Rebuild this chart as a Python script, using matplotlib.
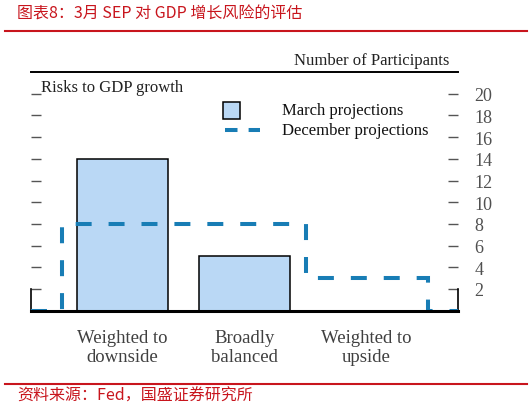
import matplotlib
matplotlib.use("Agg")
import matplotlib.pyplot as plt
import numpy as np
from matplotlib.lines import Line2D
from matplotlib.patches import Rectangle

# ---- data ----
categories = ["Weighted to\ndownside", "Broadly\nbalanced", "Weighted to\nupside"]
march = [14, 5, 0]
december = [8, 8, 3]
yticks = [2, 4, 6, 8, 10, 12, 14, 16, 18, 20]
title = "图表8：3月 SEP 对 GDP 增长风险的评估"
source = "资料来源：Fed，国盛证券研究所"

plt.rcParams['lines.scale_dashes'] = False
W, H = 532, 410
fig = plt.figure(figsize=(W / 100, H / 100), dpi=100)

def fx(x):
    return x / W

def fy(y):
    return 1 - y / H

RED = "#c8151d"
BLUE_FILL = "#bad8f5"
BLUE_LINE = "#187db5"
GREY = "#505050"
serif = ["Liberation Serif", "DejaVu Serif"]
cjk = ["Noto Sans CJK SC", "DejaVu Sans"]

# axes frame: x 31..458, y 73..311.7
ax = fig.add_axes([fx(31), fy(311.7), fx(458) - fx(31), fy(73) - fy(311.7)])
x = np.arange(len(categories))
ax.bar(x, march, width=0.75, color=BLUE_FILL, edgecolor="black", linewidth=1.1, zorder=2)

xmin, xmax = -0.75, len(categories) - 0.25
edges = np.arange(len(categories) + 1) - 0.5
xs = np.r_[xmin, np.repeat(edges, 2), xmax]
ys = np.r_[0, 0, np.repeat(december, 2), 0, 0]
ax.plot(xs, ys, color=BLUE_LINE, linewidth=2.9, dashes=[11.5, 12.2], zorder=3,
        solid_joinstyle="miter", dash_joinstyle="miter")

ax.set_xlim(xmin, xmax)
ax.set_ylim(0, 22)

ax.spines['top'].set_linewidth(1.4)
ax.spines['bottom'].set_linewidth(2.2)
ax.spines['bottom'].set_zorder(4)
for s in ('left', 'right'):
    ax.spines[s].set_bounds(0, 2)
    ax.spines[s].set_linewidth(1.2)

ax.set_yticks(yticks)
ax.set_yticklabels([str(v) for v in yticks], family=serif, fontsize=13, color=GREY)
ax.tick_params(axis='y', which='both', direction='in', length=7, width=1.0, color="#555555",
               left=True, right=True, labelleft=False, labelright=True, pad=12)
ax.set_xticks(x)
ax.set_xticklabels(categories, family=serif, fontsize=13.5, color="#404040", linespacing=1.17)
ax.tick_params(axis='x', length=0, pad=13)

# texts
fig.text(fx(449), fy(65), "Number of Participants", ha="right", va="baseline",
         family=serif, fontsize=12, color="#222222")
fig.text(fx(41), fy(92), "Risks to GDP growth", ha="left", va="baseline",
         family=serif, fontsize=12, color="#222222")

# legend (manual)
fig.add_artist(Rectangle((fx(223), fy(120)), fx(240) - fx(223), fy(103) - fy(120),
                         transform=fig.transFigure, facecolor=BLUE_FILL, edgecolor="black", linewidth=1.1))
fig.text(fx(282), fy(111), "March projections", ha="left", va="center",
         family=serif, fontsize=12, color="#111111")
fig.add_artist(Line2D([fx(225), fx(260)], [fy(130.5), fy(130.5)], transform=fig.transFigure,
                      color=BLUE_LINE, linewidth=2.9, dashes=[9, 8]))
fig.text(fx(282), fy(131), "December projections", ha="left", va="center",
         family=serif, fontsize=12, color="#111111")

# header / footer
fig.text(fx(17), fy(14), title, ha="left", va="center", family=cjk, fontsize=11.5, color=RED)
fig.add_artist(Line2D([fx(5), fx(527)], [fy(31.5), fy(31.5)], transform=fig.transFigure,
                      color=RED, linewidth=1.5))
fig.add_artist(Line2D([fx(5), fx(527)], [fy(385), fy(385)], transform=fig.transFigure,
                      color=RED, linewidth=1.5))
fig.text(fx(17), fy(396), source, ha="left", va="center", family=cjk, fontsize=11.5, color=RED)

fig.savefig("out.png", dpi=100)
